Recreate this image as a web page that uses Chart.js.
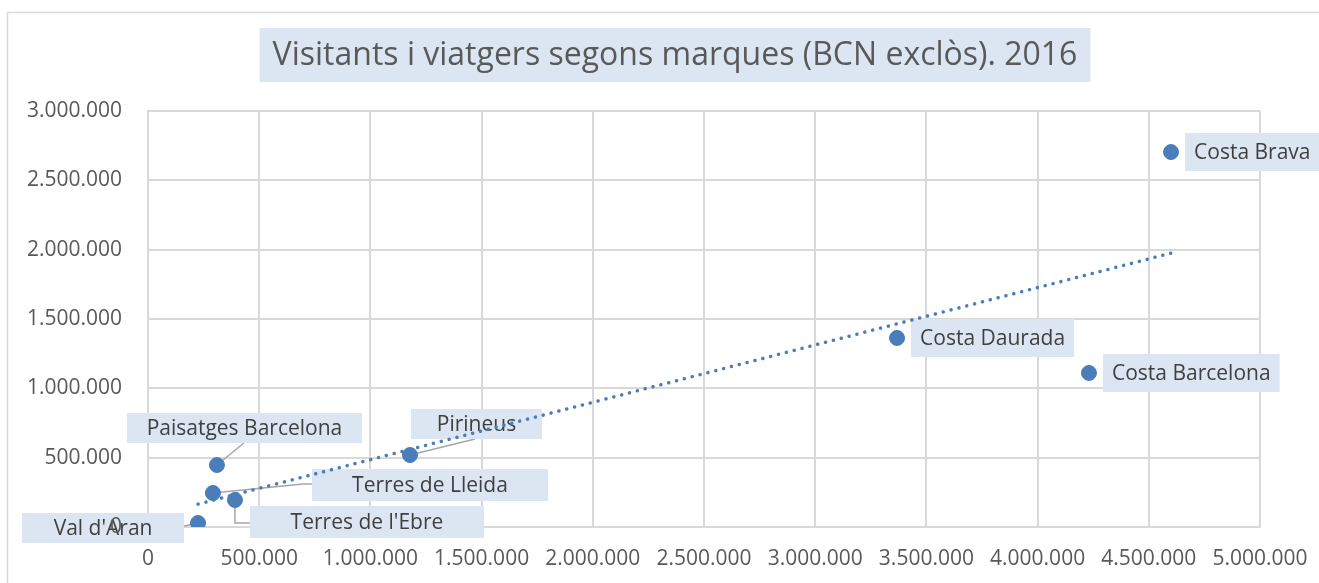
<!DOCTYPE html>
<html>
<head>
<meta charset="utf-8">
<script src="https://cdn.jsdelivr.net/npm/chart.js@4/dist/chart.umd.min.js"></script>
<style>
  html, body { margin: 0; padding: 0; background: #fff; }
  #wrap { width: 1319px; height: 583px; }
</style>
</head>
<body>
<div id="wrap"><canvas id="scatter" width="1319" height="583"></canvas></div>
<script>
// Dades llegides del gràfic original
const titleText = 'Visitants i viatgers segons marques (BCN exclòs). 2016';
const brands = ['Costa Brava', 'Costa Daurada', 'Costa Barcelona', 'Pirineus',
                'Paisatges Barcelona', 'Terres de Lleida', "Terres de l'Ebre", "Val d'Aran"];
const visitants = [4600000, 3368000, 4231000, 1178000, 310000, 292000, 391000, 225000];
const viatgers  = [2704000, 1363000, 1111000, 519000, 447000, 245000, 195000, 29000];
const xTickLabels = ['0', '500.000', '1.000.000', '1.500.000', '2.000.000', '2.500.000',
                     '3.000.000', '3.500.000', '4.000.000', '4.500.000', '5.000.000'];
const yTickLabels = ['0', '500.000', '1.000.000', '1.500.000', '2.000.000', '2.500.000', '3.000.000'];

const FONT = '"Open Sans", "DejaVu Sans", sans-serif';
const BLUE = '#4a7ebb';
const BOX = '#dce6f2';
const GRID = '#d9d9d9';

// recta de tendència (mínims quadrats)
const n = visitants.length;
const mx = visitants.reduce((a, b) => a + b, 0) / n;
const my = viatgers.reduce((a, b) => a + b, 0) / n;
let sxy = 0, sxx = 0;
for (let i = 0; i < n; i++) {
  sxy += (visitants[i] - mx) * (viatgers[i] - my);
  sxx += (visitants[i] - mx) ** 2;
}
const slope = sxy / sxx;
const intercept = my - slope * mx;
const xMin = Math.min(...visitants), xMax = Math.max(...visitants);

// col·locació de les etiquetes (en píxels, respecte del punt)
const labelLayout = {
  'Costa Brava':        { side: 'right' },
  'Costa Daurada':      { side: 'right' },
  'Costa Barcelona':    { side: 'right' },
  'Pirineus':           { dx: 66.5, dy: -31, w: 131, h: 30, leader: [[65, -16]] },
  'Paisatges Barcelona':{ dx: 27.5, dy: -37, w: 235, h: 30, leader: [[27, -22]] },
  'Terres de Lleida':   { dx: 217, dy: -8, w: 236, h: 32, leader: [[90, -9], [99, -9]] },
  "Terres de l'Ebre":   { dx: 132, dy: 22, w: 234, h: 32, leader: [[0, 23], [15, 23]] },
  "Val d'Aran":         { dx: -95, dy: 5, w: 162, h: 30, leader: [[-14, 3]] }
};

const frameAndTitle = {
  id: 'frameAndTitle',
  beforeDraw(chart) {
    const c = chart.ctx;
    c.save();
    c.fillStyle = '#fff';
    c.fillRect(0, 0, chart.width, chart.height);
    c.strokeStyle = GRID;
    c.lineWidth = 1.5;
    c.strokeRect(7.5, 12.5, chart.width + 20, chart.height + 20);
    c.font = '32px ' + FONT;
    const tw = c.measureText(titleText).width;
    const cx = 675, cy = 55;
    c.fillStyle = BOX;
    c.fillRect(cx - tw / 2 - 13, 28, tw + 26, 54);
    c.fillStyle = '#595959';
    c.textAlign = 'center';
    c.textBaseline = 'middle';
    c.fillText(titleText, cx, cy + 1);
    c.restore();
  }
};

const pointLabels = {
  id: 'pointLabels',
  beforeDatasetsDraw(chart) {
    const c = chart.ctx;
    const meta = chart.getDatasetMeta(0);
    c.save();
    c.font = '21px ' + FONT;
    c.textAlign = 'center';
    c.textBaseline = 'middle';
    meta.data.forEach((pt, i) => {
      const name = brands[i];
      const lay = labelLayout[name];
      const tw = c.measureText(name).width;
      let bx, by, bw, bh;
      if (lay.side === 'right') {
        bw = tw + 18; bh = 38;
        bx = pt.x + 14; by = pt.y - bh / 2;
      } else {
        bw = lay.w; bh = lay.h;
        bx = pt.x + lay.dx - bw / 2; by = pt.y + lay.dy - bh / 2;
      }
      if (lay.leader) {
        c.strokeStyle = '#a6a6a6';
        c.lineWidth = 1.5;
        c.beginPath();
        c.moveTo(pt.x, pt.y);
        lay.leader.forEach(([lx, ly]) => c.lineTo(pt.x + lx, pt.y + ly));
        c.stroke();
      }
      c.fillStyle = BOX;
      c.fillRect(bx, by, bw, bh);
      c.fillStyle = '#404040';
      c.fillText(name, bx + bw / 2, by + bh / 2 + 1);
    });
    // l'etiqueta "0" de l'eix Y queda per sobre de la caixa de Val d'Aran
    const ys = chart.scales.y;
    c.fillStyle = '#595959';
    c.textAlign = 'right';
    c.fillText(yTickLabels[0], ys.right - ys.options.ticks.padding, ys.getPixelForValue(0));
    c.restore();
  }
};

function noEdgePadding(s) {
  s.paddingLeft = 0; s.paddingRight = 0;
  s.paddingTop = 0; s.paddingBottom = 0;
}

function drawChart() {
  new Chart(document.getElementById('scatter'), {
    type: 'scatter',
    data: {
      datasets: [{
        label: 'Marques',
        data: visitants.map((v, i) => ({ x: v, y: viatgers[i] })),
        backgroundColor: BLUE,
        borderColor: BLUE,
        pointRadius: 7.5,
        pointHoverRadius: 7.5
      }, {
        type: 'line',
        label: 'Tendència',
        data: [{ x: xMin, y: intercept + slope * xMin }, { x: xMax, y: intercept + slope * xMax }],
        borderColor: BLUE,
        borderWidth: 3.5,
        borderDash: [0.1, 8],
        borderCapStyle: 'round',
        pointRadius: 0,
        fill: false
      }]
    },
    options: {
      responsive: false,
      animation: false,
      layout: { autoPadding: false, padding: { top: 111, right: 59, left: 0, bottom: 0 } },
      plugins: {
        legend: { display: false },
        tooltip: { enabled: false },
        title: { display: false }
      },
      scales: {
        x: {
          type: 'linear',
          min: 0, max: 5000000,
          afterBuildTicks: s => { s.ticks = xTickLabels.map((_, i) => ({ value: i * 500000 })); },
          afterFit: s => { s.height = 56; noEdgePadding(s); },
          grid: { color: GRID, lineWidth: 2, drawTicks: false },
          border: { color: GRID, width: 2 },
          ticks: {
            padding: 19,
            color: '#595959',
            font: { family: FONT, size: 21 },
            maxRotation: 0,
            callback: (v, i) => xTickLabels[i]
          }
        },
        y: {
          min: 0, max: 3000000,
          afterBuildTicks: s => { s.ticks = yTickLabels.map((_, i) => ({ value: i * 500000 })); },
          afterFit: s => { s.width = 148; noEdgePadding(s); },
          grid: { color: GRID, lineWidth: 2, drawTicks: false },
          border: { color: GRID, width: 2 },
          ticks: {
            padding: 26,
            color: '#595959',
            font: { family: FONT, size: 21 },
            callback: (v, i) => yTickLabels[i]
          }
        }
      }
    },
    plugins: [frameAndTitle, pointLabels]
  });
}

document.fonts.load('21px "Open Sans"').then(drawChart, drawChart);
</script>
</body>
</html>
